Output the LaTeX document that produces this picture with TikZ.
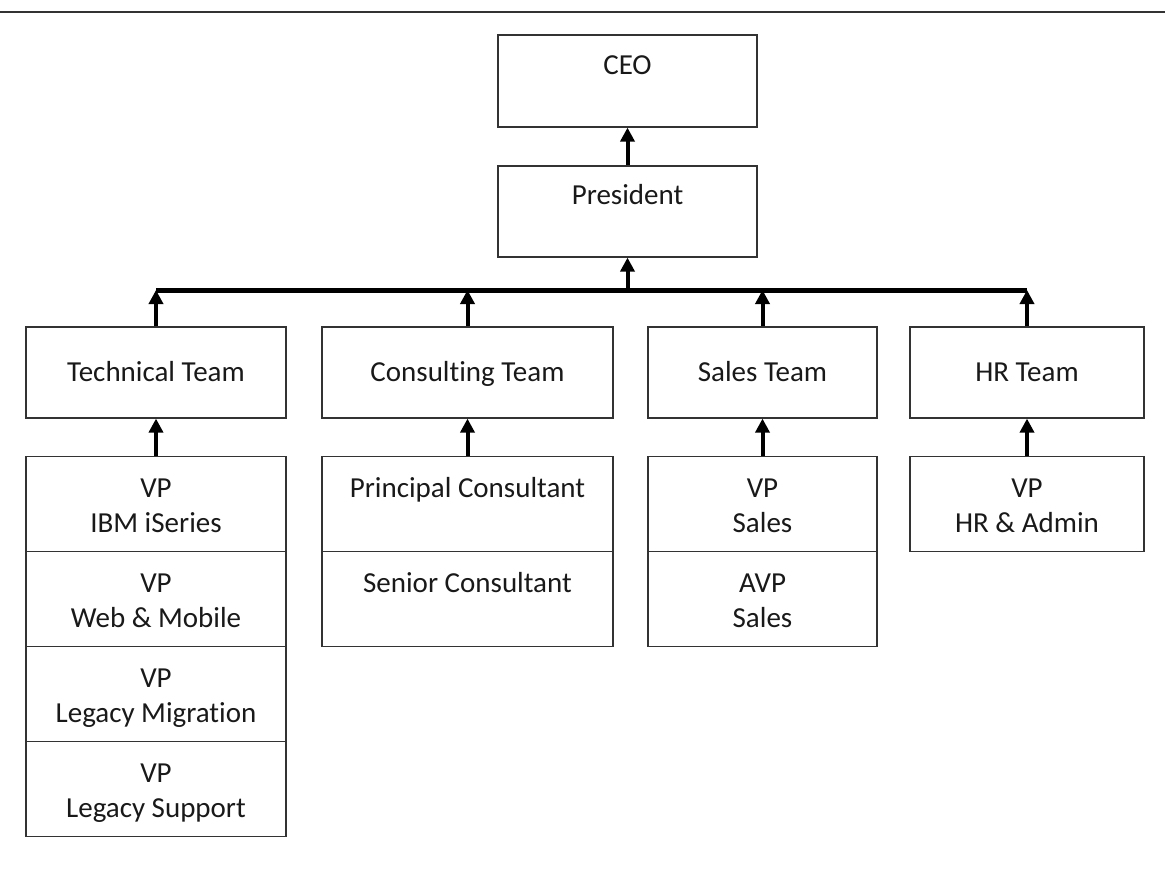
\documentclass[tikz,border=0pt]{standalone}
\usepackage{fontspec}
\setmainfont{Carlito}[Ligatures={NoCommon}]
\usetikzlibrary{arrows.meta}
\begin{document}
\begin{tikzpicture}[x=1pt,y=-1pt,
  box/.style={draw=black!80,line width=1.2pt,rectangle,inner sep=0pt,align=center,
    font=\fontsize{29}{35}\selectfont,text=black!90},
  two/.style={box,text height=60pt,text depth=3.4pt},
  one/.style={box,text height=24pt,text depth=6pt},
  up/.style={draw=black,line width=4pt,-{Triangle[width=14pt,length=14pt]}},
  busline/.style={draw=black,line width=5pt},
  rule/.style={draw=black!80,line width=2.5pt}]
\useasboundingbox (0,0) rectangle (1165,869);
% top rule
\coordinate (rl) at (0,12);
\coordinate (rr) at (1165,12);
\draw[rule] (rl) -- (rr);
% top boxes
\node[two,minimum width=259pt,minimum height=92pt] (ceo) at (627.5,81) {CEO\\\mbox{}};
\node[two,minimum width=259pt,minimum height=91pt] (pres) at (627.5,211.5) {President\\\mbox{}};
% teams
\node[one,minimum width=260pt,minimum height=91pt] (tech) at (156,372.5) {Technical Team};
\node[one,minimum width=291pt,minimum height=91pt] (cons) at (467.5,372.5) {Consulting Team};
\node[one,minimum width=229pt,minimum height=91pt] (sales) at (762.5,372.5) {Sales Team};
\node[one,minimum width=234pt,minimum height=91pt] (hr) at (1027,372.5) {HR Team};
% sub boxes
\node[two,minimum width=260pt,minimum height=95pt] (t1) at (156,504) {VP\\IBM iSeries};
\node[two,minimum width=260pt,minimum height=95pt] (t2) at (156,599) {VP\\Web \& Mobile};
\node[two,minimum width=260pt,minimum height=95pt] (t3) at (156,694) {VP\\Legacy Migration};
\node[two,minimum width=260pt,minimum height=95pt] (t4) at (156,789) {VP\\Legacy Support};
\node[two,minimum width=291pt,minimum height=95pt] (c1) at (467.5,504) {Principal Consultant\\\mbox{}};
\node[two,minimum width=291pt,minimum height=95pt] (c2) at (467.5,599) {Senior Consultant\\\mbox{}};
\node[two,minimum width=229pt,minimum height=95pt] (s1) at (762.5,504) {VP\\Sales};
\node[two,minimum width=229pt,minimum height=95pt] (s2) at (762.5,599) {AVP\\Sales};
\node[two,minimum width=234pt,minimum height=95pt] (h1) at (1027,504) {VP\\HR \& Admin};
% bus
\coordinate (bl) at (156,290);
\coordinate (br) at (1027,290);
\coordinate (bp) at (627.5,290);
\coordinate (bc) at (467.5,290);
\coordinate (bs) at (762.5,290);
\draw[busline] (bl) -- (br);
% arrows
\draw[up] (pres.north) -- (ceo.south);
\draw[up] (bp) -- (pres.south);
\draw[up] (tech.north) -- (bl);
\draw[up] (cons.north) -- (bc);
\draw[up] (sales.north) -- (bs);
\draw[up] (hr.north) -- (br);
\draw[up] (t1.north) -- (tech.south);
\draw[up] (c1.north) -- (cons.south);
\draw[up] (s1.north) -- (sales.south);
\draw[up] (h1.north) -- (hr.south);
\end{tikzpicture}
\end{document}
